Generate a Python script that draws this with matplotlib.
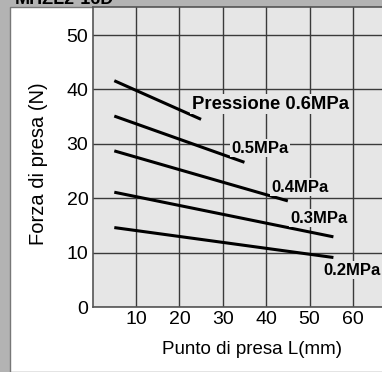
import matplotlib
matplotlib.use("Agg")
import matplotlib.pyplot as plt
from matplotlib.patches import Rectangle

# valori (forza di presa vs punto di presa)
pressures = ["0.6MPa", "0.5MPa", "0.4MPa", "0.3MPa", "0.2MPa"]
x_start = [5, 5, 5, 5, 5]
x_end = [25, 35, 45, 55.5, 55.5]
f_start = [41.6, 35.1, 28.7, 21.1, 14.6]
f_end = [34.5, 26.6, 19.5, 12.9, 9.1]

labels = ["Pressione 0.6MPa", "0.5MPa", "0.4MPa", "0.3MPa", "0.2MPa"]
label_x = [22.8, 31.9, 41.3, 45.6, 53.3]
label_y = [37.3, 29.2, 22.0, 16.3, 6.8]

xticks = [10, 20, 30, 40, 50, 60]
yticks = [0, 10, 20, 30, 40, 50]

W, H = 382, 372
plt.rcParams['font.family'] = ['Liberation Sans', 'DejaVu Sans']

fig = plt.figure(figsize=(W / 100, H / 100), dpi=100)
fig.patch.set_facecolor('#b3b3b3')

# white panel inside the gray frame
fig.patches.append(Rectangle((10 / W, 0), 1, (H - 7) / H, transform=fig.transFigure,
                             facecolor='white', edgecolor='#777777', lw=1.0, zorder=-10))
# clipped title at the top
fig.text(15 / W, (H - 4) / H, "MHZL2-16D", fontsize=13, fontweight='bold',
         va='baseline', ha='left', color='black')

ax = fig.add_axes([92.6 / W, 65 / H, (W - 92.6) / W, 300 / H])
ax.set_facecolor('#e6e6e6')
ax.set_xlim(0, 66.7)
ax.set_ylim(0, 55.15)

ax.set_xticks(xticks)
ax.set_yticks(yticks)
ax.tick_params(length=0, labelsize=14, colors='black')
ax.tick_params(axis='x', pad=3)
ax.tick_params(axis='y', pad=3)
ax.grid(True, color='#3a3a3a', lw=1.0)
ax.set_axisbelow(True)

for s in ['left', 'bottom', 'top']:
    ax.spines[s].set_color('#555555')
    ax.spines[s].set_linewidth(1.2)
ax.spines['right'].set_visible(False)

for i in range(len(pressures)):
    ax.plot([x_start[i], x_end[i]], [f_start[i], f_end[i]], color='black', lw=2.2,
            solid_capstyle='butt', zorder=3)
    ax.text(label_x[i], label_y[i], labels[i], fontsize=13.3 if i == 0 else 12,
            fontweight='bold', ha='left', va='center', zorder=4,
            bbox=dict(facecolor='#e6e6e6', edgecolor='none', pad=1.0))

ax.set_xlabel("Punto di presa L(mm)", fontsize=13.5, va='center')
ax.xaxis.set_label_coords((252.5 - 92.6) / 289.4, (307 - 350) / 300)
ax.set_ylabel("Forza di presa (N)", fontsize=14.5, va='center')
ax.yaxis.set_label_coords((38.5 - 92.6) / 289.4, (307 - 164) / 300)

fig.savefig("out.png", dpi=100, facecolor=fig.get_facecolor())
